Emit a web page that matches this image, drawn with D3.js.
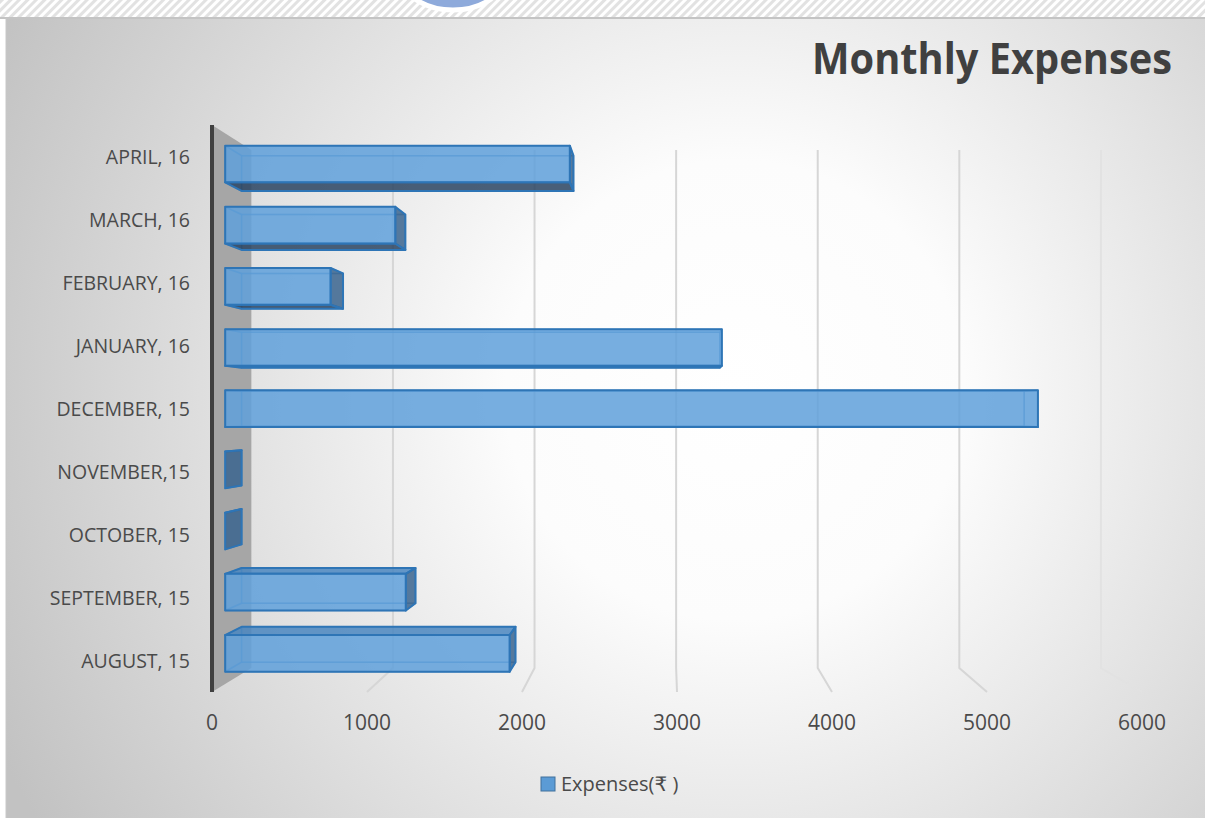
<!DOCTYPE html>
<html>
<head>
<meta charset="utf-8">
<script src="https://cdn.jsdelivr.net/npm/d3@7"></script>
<style>
  html, body { margin: 0; padding: 0; background: #fff; }
  svg { display: block; }
</style>
</head>
<body>
<div id="chart"></div>
<script>
// Chart data
const months = ["AUGUST, 15", "SEPTEMBER, 15", "OCTOBER, 15", "NOVEMBER,15", "DECEMBER, 15",
                "JANUARY, 16", "FEBRUARY, 16", "MARCH, 16", "APRIL, 16"];
const expenses = [1890, 1200, 0, 0, 5400, 3300, 700, 1130, 2290];
const tickValues = [0, 1000, 2000, 3000, 4000, 5000, 6000];
const seriesName = "Expenses(₹ )";
const title = "Monthly Expenses";

const width = 1205;
const height = 818;

// perspective set-up: vanishing point and depth scale for each plane
const vp = {x: 667, y: 415};
const depth = {front: 1, barFront: 0.971, barBack: 0.935, back: 0.9135};

const svg = d3.select("#chart").append("svg")
    .attr("width", width)
    .attr("height", height);

const defs = svg.append("defs");

// background gradient of the chart area
const bg = defs.append("radialGradient")
    .attr("id", "bgGrad")
    .attr("gradientUnits", "userSpaceOnUse")
    .attr("cx", 735).attr("cy", 390).attr("r", 820);
bg.append("stop").attr("offset", 0).attr("stop-color", "#ffffff");
bg.append("stop").attr("offset", 0.28).attr("stop-color", "#fcfcfc");
bg.append("stop").attr("offset", 1).attr("stop-color", "#c2c2c2");

// hatched strip at the very top (slide behind the chart)
const hatch = defs.append("pattern")
    .attr("id", "hatch")
    .attr("patternUnits", "userSpaceOnUse")
    .attr("width", 6).attr("height", 6)
    .attr("patternTransform", "rotate(45)");
hatch.append("rect").attr("width", 6).attr("height", 6).attr("fill", "#ffffff");
hatch.append("rect").attr("width", 3).attr("height", 6).attr("fill", "#e2e2e2");

svg.append("rect").attr("x", 0).attr("y", 0).attr("width", width).attr("height", 18)
    .attr("fill", "url(#hatch)");
svg.append("ellipse")
    .attr("cx", 453).attr("cy", -22).attr("rx", 50).attr("ry", 32)
    .attr("fill", "#8eaadb").attr("stroke", "#ffffff").attr("stroke-width", 5);

// chart area
svg.append("rect")
    .attr("x", 6).attr("y", 18).attr("width", width - 6).attr("height", height - 18)
    .attr("fill", "url(#bgGrad)");
svg.append("line").attr("x1", 0).attr("x2", width).attr("y1", 18).attr("y2", 18)
    .attr("stroke", "#c4c4c4").attr("stroke-width", 2);
svg.append("line").attr("x1", 6).attr("x2", 6).attr("y1", 18).attr("y2", height)
    .attr("stroke", "#c8c8c8").attr("stroke-width", 1);

// scales in the front plane of the floor
const x = d3.scaleLinear().domain([0, 6000]).range([212, 1142]);
const y = d3.scaleBand().domain(months).range([692, 125])
    .paddingInner(0.4).paddingOuter(0.2);

function proj(xv, yv, s) {
    return [vp.x + (xv - vp.x) * s, vp.y + (yv - vp.y) * s];
}
const line = d3.line();

// gridlines: vertical on the back wall, then diagonal across the floor
const grid = svg.append("g").attr("fill", "none").attr("stroke-width", 2);
tickValues.filter(d => d > 0).forEach(t => {
    const pts = [proj(x(t), 125, depth.back), proj(x(t), 692, depth.back), proj(x(t), 692, depth.front)];
    grid.append("path").attr("d", line(pts))
        .attr("stroke", t === 6000 ? "#e2e2e2" : "#d6d6d6");
});

// side wall at value 0
const wall = [proj(x(0), 125, depth.front), proj(x(0), 125, depth.back),
              proj(x(0), 692, depth.back), proj(x(0), 692, depth.front)];
svg.append("path").attr("d", line(wall) + "Z").attr("fill", "#a6a6a6");
svg.append("line")
    .attr("x1", x(0)).attr("x2", x(0)).attr("y1", 125).attr("y2", 692)
    .attr("stroke", "#404040").attr("stroke-width", 4);

// 3D bars
const barStroke = "#2e75b6";
const bars = svg.append("g").attr("stroke-linejoin", "round");

months.forEach((m, i) => {
    const v = expenses[i];
    const x0 = x(0), x1 = x(v);
    const yt = y(m), yb = y(m) + y.bandwidth();
    const f = depth.barFront, b = depth.barBack;

    const faces = {
        front: [proj(x0, yt, f), proj(x1, yt, f), proj(x1, yb, f), proj(x0, yb, f)],
        back: [proj(x0, yt, b), proj(x1, yt, b), proj(x1, yb, b), proj(x0, yb, b)],
        top: [proj(x0, yt, f), proj(x1, yt, f), proj(x1, yt, b), proj(x0, yt, b)],
        bottom: [proj(x0, yb, f), proj(x1, yb, f), proj(x1, yb, b), proj(x0, yb, b)],
        right: [proj(x1, yt, f), proj(x1, yt, b), proj(x1, yb, b), proj(x1, yb, f)],
        left: [proj(x0, yt, f), proj(x0, yt, b), proj(x0, yb, b), proj(x0, yb, f)]
    };

    const g = bars.append("g");
    const hidden = (pts) => g.append("path").attr("d", line(pts) + "Z")
        .attr("fill", "none").attr("stroke", barStroke).attr("stroke-opacity", 0.45)
        .attr("stroke-width", 1.5);
    const shown = (pts, fill) => g.append("path").attr("d", line(pts) + "Z")
        .attr("fill", fill).attr("fill-opacity", 0.85)
        .attr("stroke", barStroke).attr("stroke-width", 2);

    const topVisible = yt > vp.y;           // bar sits below the eye
    const rightVisible = x1 < vp.x;

    hidden(faces.back);
    hidden(faces.left);
    hidden(topVisible ? faces.bottom : faces.top);
    if (!rightVisible) hidden(faces.right);

    if (topVisible) shown(faces.top, "#4a86c0");
    else shown(faces.bottom, "#2a4462");
    if (rightVisible) shown(faces.right, "#3a648e");
    if (v > 0) shown(faces.front, "#5fa0db");
});

// category labels
const textColor = "#4a4a4a";
const font = "'Open Sans', 'DejaVu Sans', sans-serif";

svg.append("g").selectAll("text")
    .data(months)
    .join("text")
    .attr("x", 190)
    .attr("y", d => y(d) + y.bandwidth() / 2)
    .attr("dy", "0.36em")
    .attr("text-anchor", "end")
    .attr("font-family", font)
    .attr("font-size", 19.5)
    .attr("fill", textColor)
    .text(d => d);

// value axis labels along the front edge of the floor
svg.append("g").selectAll("text")
    .data(tickValues)
    .join("text")
    .attr("x", d => x(d))
    .attr("y", 730)
    .attr("text-anchor", "middle")
    .attr("font-family", font)
    .attr("font-size", 21)
    .attr("fill", textColor)
    .text(d => d);

// title
svg.append("text")
    .attr("x", 812)
    .attr("y", 74)
    .attr("font-family", font)
    .attr("font-weight", 700)
    .attr("font-size", 43)
    .attr("textLength", 360)
    .attr("lengthAdjust", "spacingAndGlyphs")
    .attr("fill", "#404040")
    .text(title);

// legend
const legend = svg.append("g");
legend.append("rect")
    .attr("x", 541).attr("y", 777).attr("width", 14).attr("height", 14)
    .attr("fill", "#5b9bd5").attr("stroke", "#41719c").attr("stroke-width", 1);
legend.append("text")
    .attr("x", 561).attr("y", 791)
    .attr("font-family", font)
    .attr("font-size", 20)
    .attr("fill", textColor)
    .text(seriesName);
</script>
</body>
</html>
